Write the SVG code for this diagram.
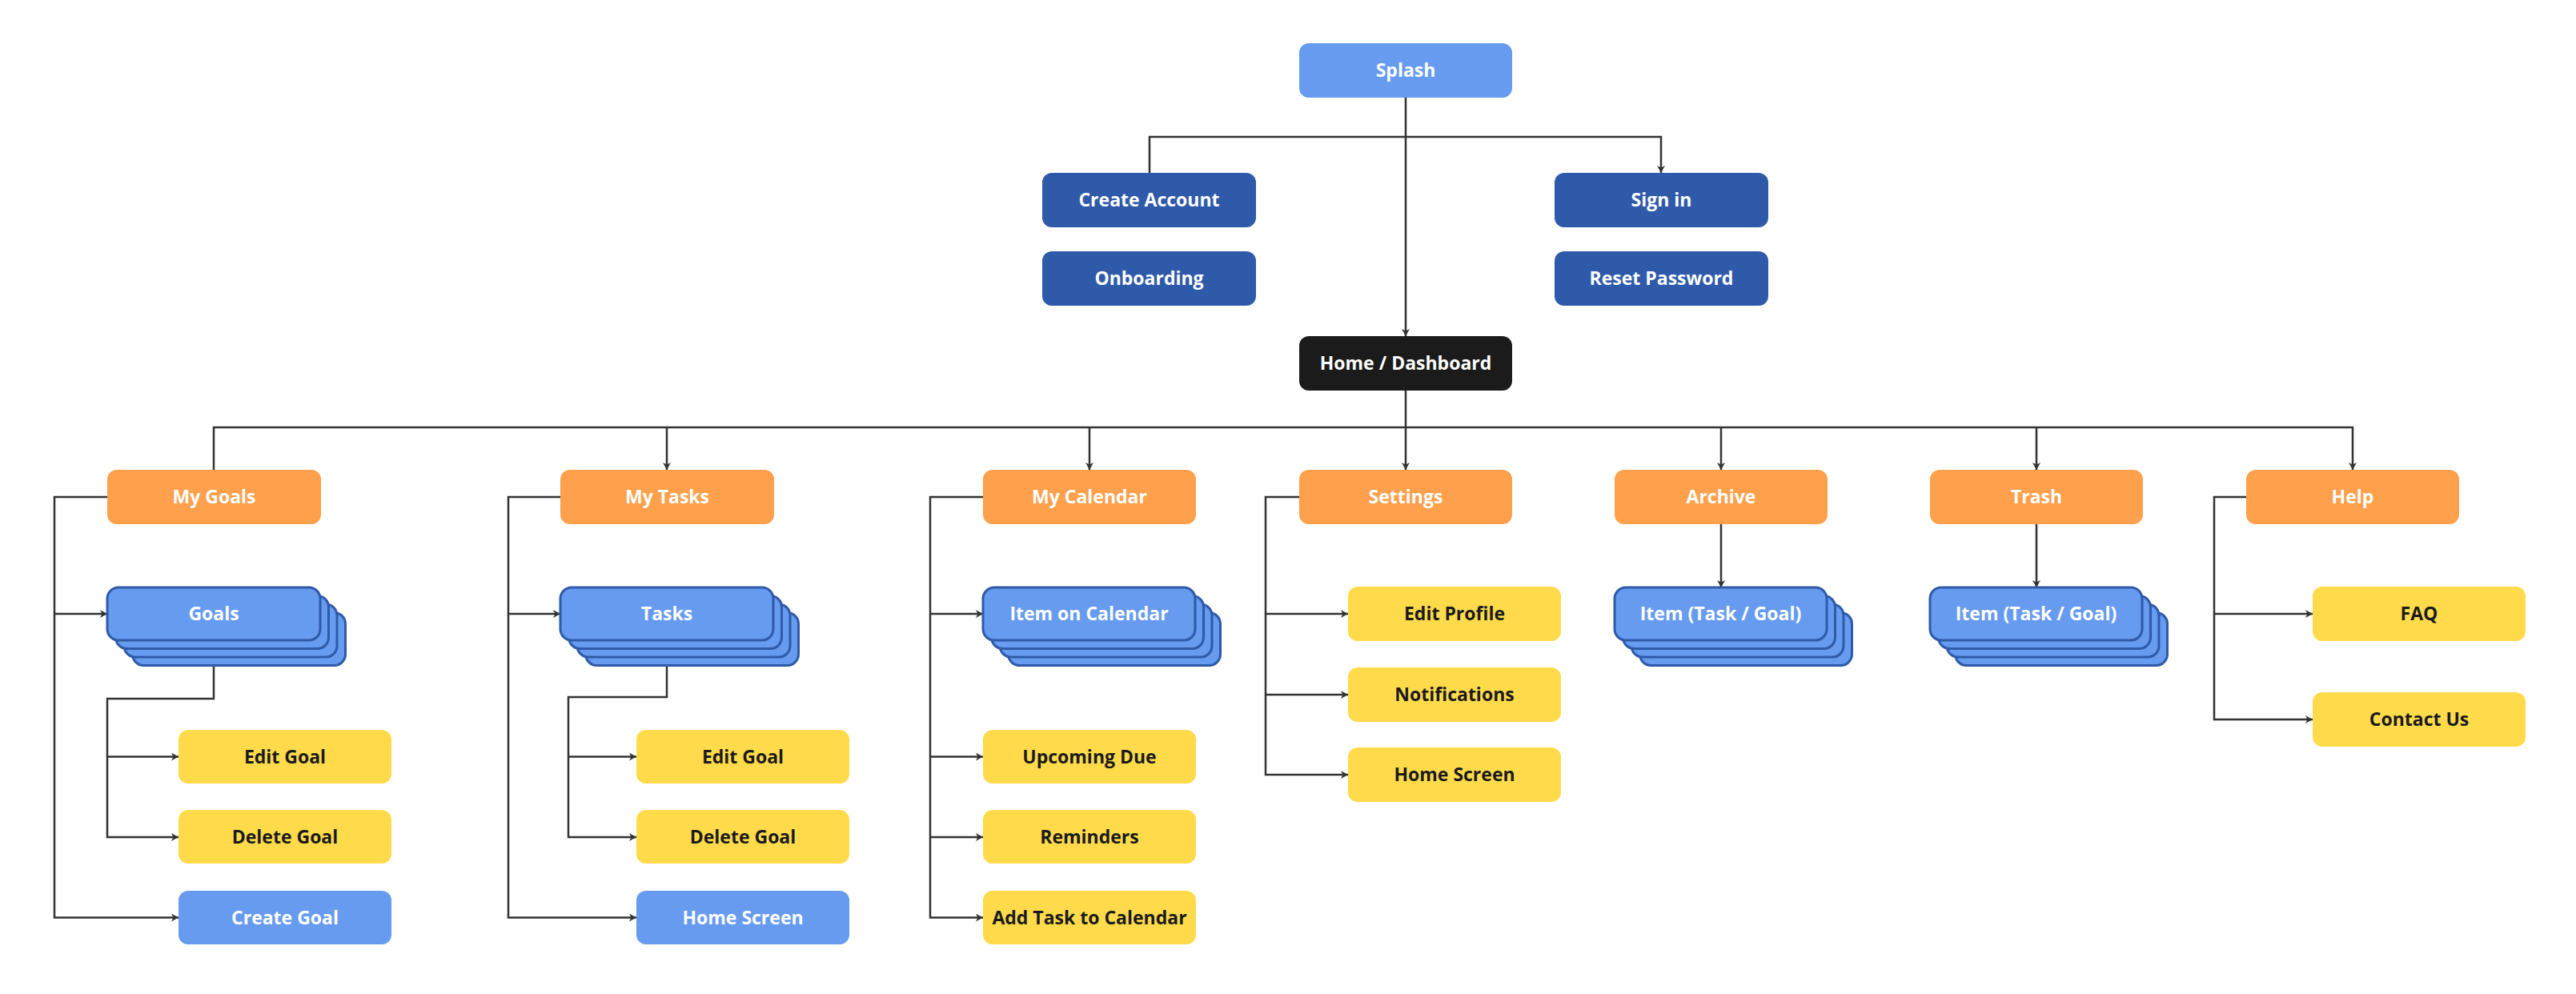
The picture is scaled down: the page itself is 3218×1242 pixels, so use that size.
<svg xmlns="http://www.w3.org/2000/svg" width="3218" height="1242" viewBox="0 0 3218 1242">
<style>
.n rect{stroke:none}
.lb rect{fill:#669BF0}
.db rect{fill:#2F5AAA}
.bk rect{fill:#1B1B1B}
.or rect{fill:#FFA04C}
.ye rect{fill:#FFDB4B}
.st rect{fill:#669BF0;stroke:#2E5AA8;stroke-width:3}
text{font-family:"Open Sans","Noto Sans","Liberation Sans",sans-serif;font-weight:700;font-size:23px;text-anchor:middle;fill:#FFFFFF}
.ye text{fill:#1A1A1A}
.c path{fill:none;stroke:#333333;stroke-width:2.5}
</style>
<defs>
<marker id="arr" viewBox="0 0 9 10" refX="9" refY="5" markerWidth="9" markerHeight="10" markerUnits="userSpaceOnUse" orient="auto">
<path d="M0,0 L9,5 L0,10 L2.5,5 z" fill="#333333"/>
</marker>
</defs>
<rect width="3218" height="1242" fill="#FFFFFF"/>

<g class="c" id="connectors">
<path d="M1756,122 V420" marker-end="url(#arr)"/>
<path d="M1436,216 V171 H2075 V216" marker-end="url(#arr)"/>
<path d="M1756,488 V587" marker-end="url(#arr)"/>
<path d="M267,587 V534 H2939 V587" marker-end="url(#arr)"/>
<path d="M833,534 V587" marker-end="url(#arr)"/>
<path d="M1361,534 V587" marker-end="url(#arr)"/>
<path d="M2150,534 V587" marker-end="url(#arr)"/>
<path d="M2544,534 V587" marker-end="url(#arr)"/>
<!-- My Goals -->
<path d="M134,621 H68 V1146.5 H223" marker-end="url(#arr)"/>
<path d="M68,767 H134" marker-end="url(#arr)"/>
<path d="M267,800 V873 H134 V1046 H223" marker-end="url(#arr)"/>
<path d="M134,945.5 H223" marker-end="url(#arr)"/>
<!-- My Tasks -->
<path d="M700,621 H635 V1146.5 H795" marker-end="url(#arr)"/>
<path d="M635,767 H700" marker-end="url(#arr)"/>
<path d="M833,800 V871 H710 V1046 H795" marker-end="url(#arr)"/>
<path d="M710,945.5 H795" marker-end="url(#arr)"/>
<!-- My Calendar -->
<path d="M1228,621 H1162 V1146.5 H1228" marker-end="url(#arr)"/>
<path d="M1162,767 H1228" marker-end="url(#arr)"/>
<path d="M1162,945.5 H1228" marker-end="url(#arr)"/>
<path d="M1162,1046 H1228" marker-end="url(#arr)"/>
<!-- Settings -->
<path d="M1623,621 H1581 V968 H1684" marker-end="url(#arr)"/>
<path d="M1581,767 H1684" marker-end="url(#arr)"/>
<path d="M1581,868 H1684" marker-end="url(#arr)"/>
<!-- Archive / Trash -->
<path d="M2150,655 V734" marker-end="url(#arr)"/>
<path d="M2544,655 V734" marker-end="url(#arr)"/>
<!-- Help -->
<path d="M2806,621 H2766 V899 H2889" marker-end="url(#arr)"/>
<path d="M2766,767 H2889" marker-end="url(#arr)"/>
</g>

<g id="splash" class="n lb"><rect x="1623" y="54" width="266" height="68" rx="12"/><text x="1756" y="96">Splash</text></g>
<g id="create-account" class="n db"><rect x="1302" y="216" width="267" height="68" rx="12"/><text x="1435.5" y="258">Create Account</text></g>
<g id="onboarding" class="n db"><rect x="1302" y="314" width="267" height="68" rx="12"/><text x="1435.5" y="356">Onboarding</text></g>
<g id="sign-in" class="n db"><rect x="1942" y="216" width="267" height="68" rx="12"/><text x="2075.5" y="258">Sign in</text></g>
<g id="reset-password" class="n db"><rect x="1942" y="314" width="267" height="68" rx="12"/><text x="2075.5" y="356">Reset Password</text></g>
<g id="home" class="n bk"><rect x="1623" y="420" width="266" height="68" rx="12"/><text x="1756" y="462">Home / Dashboard</text></g>

<g id="my-goals" class="n or"><rect x="134" y="587" width="267" height="68" rx="12"/><text x="267.5" y="629">My Goals</text></g>
<g id="my-tasks" class="n or"><rect x="700" y="587" width="267" height="68" rx="12"/><text x="833.5" y="629">My Tasks</text></g>
<g id="my-calendar" class="n or"><rect x="1228" y="587" width="266" height="68" rx="12"/><text x="1361" y="629">My Calendar</text></g>
<g id="settings" class="n or"><rect x="1623" y="587" width="266" height="68" rx="12"/><text x="1756" y="629">Settings</text></g>
<g id="archive" class="n or"><rect x="2017" y="587" width="266" height="68" rx="12"/><text x="2150" y="629">Archive</text></g>
<g id="trash" class="n or"><rect x="2411" y="587" width="266" height="68" rx="12"/><text x="2544" y="629">Trash</text></g>
<g id="help" class="n or"><rect x="2806" y="587" width="266" height="68" rx="12"/><text x="2939" y="629">Help</text></g>

<g id="goals" class="st">
<rect x="165.5" y="765.5" width="266" height="66" rx="14"/>
<rect x="155" y="755" width="266" height="66" rx="14"/>
<rect x="144.5" y="744.5" width="266" height="66" rx="14"/>
<rect x="134" y="734" width="266" height="66" rx="14"/>
<text x="267" y="775">Goals</text>
</g>
<g id="tasks" class="st">
<rect x="731.5" y="765.5" width="266" height="66" rx="14"/>
<rect x="721" y="755" width="266" height="66" rx="14"/>
<rect x="710.5" y="744.5" width="266" height="66" rx="14"/>
<rect x="700" y="734" width="266" height="66" rx="14"/>
<text x="833" y="775">Tasks</text>
</g>
<g id="item-on-calendar" class="st">
<rect x="1259.5" y="765.5" width="265" height="66" rx="14"/>
<rect x="1249" y="755" width="265" height="66" rx="14"/>
<rect x="1238.5" y="744.5" width="265" height="66" rx="14"/>
<rect x="1228" y="734" width="265" height="66" rx="14"/>
<text x="1360.5" y="775">Item on Calendar</text>
</g>
<g id="archive-item" class="st">
<rect x="2048.5" y="765.5" width="265" height="66" rx="14"/>
<rect x="2038" y="755" width="265" height="66" rx="14"/>
<rect x="2027.5" y="744.5" width="265" height="66" rx="14"/>
<rect x="2017" y="734" width="265" height="66" rx="14"/>
<text x="2149.5" y="775">Item (Task / Goal)</text>
</g>
<g id="trash-item" class="st">
<rect x="2442.5" y="765.5" width="265" height="66" rx="14"/>
<rect x="2432" y="755" width="265" height="66" rx="14"/>
<rect x="2421.5" y="744.5" width="265" height="66" rx="14"/>
<rect x="2411" y="734" width="265" height="66" rx="14"/>
<text x="2543.5" y="775">Item (Task / Goal)</text>
</g>

<g id="edit-goal-1" class="n ye"><rect x="223" y="912" width="266" height="67" rx="12"/><text x="356" y="953.5">Edit Goal</text></g>
<g id="delete-goal-1" class="n ye"><rect x="223" y="1012" width="266" height="67" rx="12"/><text x="356" y="1053.5">Delete Goal</text></g>
<g id="create-goal" class="n lb"><rect x="223" y="1113" width="266" height="67" rx="12"/><text x="356" y="1154.5">Create Goal</text></g>

<g id="edit-goal-2" class="n ye"><rect x="795" y="912" width="266" height="67" rx="12"/><text x="928" y="953.5">Edit Goal</text></g>
<g id="delete-goal-2" class="n ye"><rect x="795" y="1012" width="266" height="67" rx="12"/><text x="928" y="1053.5">Delete Goal</text></g>
<g id="home-screen-1" class="n lb"><rect x="795" y="1113" width="266" height="67" rx="12"/><text x="928" y="1154.5">Home Screen</text></g>

<g id="upcoming-due" class="n ye"><rect x="1228" y="912" width="266" height="67" rx="12"/><text x="1361" y="953.5">Upcoming Due</text></g>
<g id="reminders" class="n ye"><rect x="1228" y="1012" width="266" height="67" rx="12"/><text x="1361" y="1053.5">Reminders</text></g>
<g id="add-task" class="n ye"><rect x="1228" y="1113" width="266" height="67" rx="12"/><text x="1361" y="1154.5">Add Task to Calendar</text></g>

<g id="edit-profile" class="n ye"><rect x="1684" y="733" width="266" height="68" rx="12"/><text x="1817" y="775">Edit Profile</text></g>
<g id="notifications" class="n ye"><rect x="1684" y="834" width="266" height="68" rx="12"/><text x="1817" y="876">Notifications</text></g>
<g id="home-screen-2" class="n ye"><rect x="1684" y="934" width="266" height="68" rx="12"/><text x="1817" y="976">Home Screen</text></g>

<g id="faq" class="n ye"><rect x="2889" y="733" width="266" height="68" rx="12"/><text x="3022" y="775">FAQ</text></g>
<g id="contact-us" class="n ye"><rect x="2889" y="865" width="266" height="68" rx="12"/><text x="3022" y="907">Contact Us</text></g>
</svg>
